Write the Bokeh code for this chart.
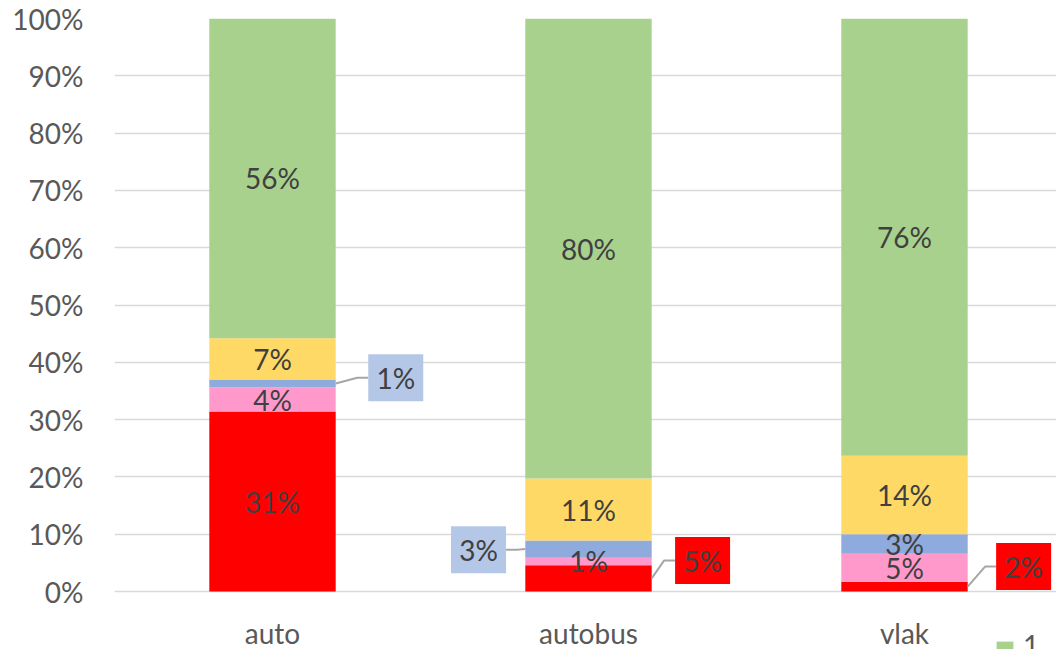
from bokeh.plotting import figure
from bokeh.models import ColumnDataSource, Range1d, FixedTicker, Legend, LegendItem
from bokeh.core.properties import value
from bokeh.embed import file_html
from bokeh.resources import INLINE

# ---------------- data ----------------
categories = ["auto", "autobus", "vlak"]
series = ["5", "4", "3", "2", "1"]            # stacked bottom -> top
red = [31.4, 4.6, 1.7]
pink = [4.2, 1.3, 4.9]
blue = [1.4, 3.0, 3.4]
yellow = [7.2, 10.8, 13.7]
green = [55.8, 80.3, 76.3]
y_ticks = [0, 10, 20, 30, 40, 50, 60, 70, 80, 90, 100]
y_tick_labels = ["0%", "10%", "20%", "30%", "40%", "50%", "60%", "70%", "80%", "90%", "100%"]

# ---------------- style / layout ----------------
colors = ["#FF0000", "#FF99CC", "#8FAADC", "#FFD966", "#A9D18E"]
callout_fill = {"3": "#B4C7E7", "5": "#FF0000"}
# labels placed in a callout box: (series, category) -> (dx in category units, dy in %)
callouts = {("3", "auto"): (0.39, 1.0),
            ("3", "autobus"): (-0.348, -0.1),
            ("5", "autobus"): (0.361, 3.1),
            ("5", "vlak"): (0.377, 3.5)}
FONT = "Lato"
FS = "28px"
TXT = "#404040"
AXIS_TXT = "#595959"
GRID = "#D9D9D9"
BAR_W = 0.4
BOX_W, BOX_H = 55, 47
W, H = 1056, 649
LEFT, TOP = 114, 18
CAT_PX = 316.0            # pixels per category
PCT_PX = 5.73             # pixels per percent
ZERO_PX = 591             # pixel row of 0 %
BOX_HALF = BOX_W / 2 / CAT_PX
Y_BOTTOM = -(H - ZERO_PX) / PCT_PX
CAT_LABEL_Y = -7.2        # category labels below the zero line

values = [red, pink, blue, yellow, green]
xs = list(range(len(categories)))
data = {"x": xs}
for name, vals in zip(series, values):
    data[name] = vals
source = ColumnDataSource(data)

p = figure(width=W, height=H, output_backend="svg", toolbar_location=None,
           x_range=Range1d(-0.5, -0.5 + (W - LEFT) / CAT_PX),
           y_range=Range1d(Y_BOTTOM, 100),
           min_border_left=LEFT, min_border_right=0, min_border_top=TOP, min_border_bottom=0)
p.outline_line_color = None
p.background_fill_color = "white"
p.border_fill_color = "white"

# ---------- axes / grid ----------
p.xaxis.visible = False
p.xgrid.grid_line_color = None
p.ygrid.ticker = FixedTicker(ticks=y_ticks)
p.ygrid.grid_line_color = GRID
p.ygrid.grid_line_width = 1.5

p.yaxis.ticker = FixedTicker(ticks=y_ticks)
p.yaxis.major_label_overrides = {t: l for t, l in zip(y_ticks, y_tick_labels)}
p.yaxis.axis_line_color = None
p.yaxis.major_tick_line_color = None
p.yaxis.minor_tick_line_color = None
p.yaxis.major_tick_out = 0
p.yaxis.major_label_standoff = 31
p.yaxis.major_label_text_font = FONT
p.yaxis.major_label_text_font_size = FS
p.yaxis.major_label_text_color = AXIS_TXT

renderers = p.vbar_stack(series, x="x", width=BAR_W, color=colors, source=source, line_color=None)

# category labels under the zero line
p.text(x=xs, y=[CAT_LABEL_Y] * len(xs), text=categories, text_align="center", text_baseline="middle",
       text_font=value(FONT), text_font_size=FS, text_color=AXIS_TXT)

# ---------- data labels ----------
in_x, in_y, in_t = [], [], []
box_x, box_y, box_c, box_t = [], [], [], []
lines_x, lines_y = [], []
for ci, cat in enumerate(categories):
    base = 0.0
    for si, name in enumerate(series):
        v = values[si][ci]
        mid = base + v / 2.0
        label = f"{round(v)}%"
        key = (name, cat)
        if key in callouts:
            dx, dy = callouts[key]
            bx = xs[ci] + dx
            by = mid + dy
            box_x.append(bx); box_y.append(by); box_c.append(callout_fill[name]); box_t.append(label)
            if dx > 0:
                edge = bx - BOX_HALF
                lines_x.append([xs[ci] + BAR_W / 2, edge - 0.035, edge])
            else:
                edge = bx + BOX_HALF
                lines_x.append([xs[ci] - BAR_W / 2, edge + 0.035, edge])
            lines_y.append([mid, by, by])
        else:
            in_x.append(xs[ci]); in_y.append(mid); in_t.append(label)
        base += v

p.multi_line(lines_x, lines_y, line_color="#A6A6A6", line_width=2)
p.rect(x=box_x, y=box_y, width=BOX_W, height=BOX_H, width_units="screen", height_units="screen",
       fill_color=box_c, line_color=None)
p.text(x=in_x + box_x, y=in_y + box_y, text=in_t + box_t, text_align="center", text_baseline="middle",
       text_font=value(FONT), text_font_size=FS, text_color=TXT)

# ---------- legend (only its first entry is visible in the source, cut at the bottom) ----------
items = [LegendItem(label=series[-1], renderers=[renderers[-1]])]
legend = Legend(items=items, orientation="horizontal", location=(880, -13),
                border_line_alpha=0, background_fill_alpha=0, padding=0, margin=0, spacing=20,
                glyph_width=21, glyph_height=11, label_standoff=8,
                label_text_font=FONT, label_text_font_size=FS, label_text_color=AXIS_TXT)
p.add_layout(legend)

open("out.html", "w").write(file_html(p, INLINE))
